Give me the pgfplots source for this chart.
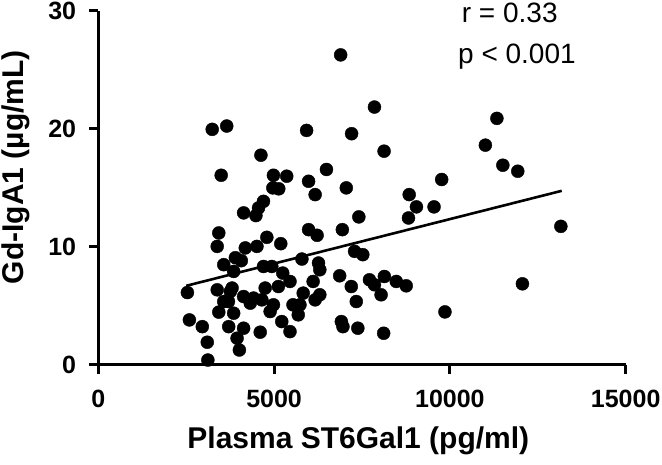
\documentclass[border=0pt]{standalone}
\usepackage{fontspec}
\setmainfont{Liberation Sans}
\usepackage{pgfplots}
\usepackage{pgfplotstable}
\pgfplotsset{compat=1.18}
\pgfplotstableread{
x y
6893 26.28
7854 21.86
3240 19.97
3653 20.25
5924 19.88
7204 19.60
8128 18.12
4625 17.78
3495 16.08
6489 16.57
4981 16.08
5359 16.00
5133 14.93
4964 15.01
5981 15.57
6167 14.44
7054 15.01
4698 13.87
4557 13.31
4133 12.89
4483 12.66
7410 12.55
3427 11.19
3382 10.05
5981 11.47
6223 10.99
6941 11.47
4794 10.82
5190 10.28
4181 9.92
4512 10.05
4068 8.84
3568 8.50
3850 7.93
4698 8.35
4935 8.35
5791 8.98
6263 8.64
6300 8.07
7289 9.63
7523 9.35
5246 7.79
5452 7.08
5122 6.65
6110 7.08
6865 7.56
7712 7.22
7854 6.80
8136 7.50
2534 6.14
3382 6.37
3757 6.23
4746 6.52
3568 5.38
4133 5.80
4415 5.67
4653 5.52
4322 5.24
5828 6.09
6300 5.95
6167 5.52
7195 6.65
8043 5.95
7337 5.38
3427 4.48
3850 4.39
4887 4.53
4981 5.10
5735 5.10
5687 4.25
2591 3.82
2958 3.25
3709 3.25
4133 3.12
4605 2.78
5218 3.68
5452 2.83
6913 3.68
6958 3.25
7382 3.12
8116 2.69
3099 1.93
3947 2.27
4012 1.27
3116 0.42
8475 7.08
8758 6.71
8842 14.44
9048 13.40
9549 13.40
8822 12.46
9766 15.72
11009 18.63
11337 20.90
11506 16.93
11930 16.42
13156 11.75
12063 6.88
9859 4.50
3805 6.52
3899 9.09
5537 5.10
3701 5.38
}\scatterdata
\begin{document}
\begin{tikzpicture}[x=1pt,y=1pt]
\useasboundingbox (-98.3,-100) rectangle (563.7,365);
\begin{axis}[
  at={(0,0)}, anchor=south west,
  scale only axis, width=527.4pt, height=354pt,
  xmin=0, xmax=15000, ymin=0, ymax=30,
  clip=false,
  axis lines=left,
  axis line style={-, line width=3pt, black},
  every outer x axis line/.append style={-},
  every outer y axis line/.append style={-},
  xtick={0,5000,10000,15000},
  ytick={0,10,20,30},
  minor tick num=0,
  tick align=outside,
  major tick length=9pt,
  tick style={line width=3pt, black},
  scaled x ticks=false,
  /pgf/number format/assume math mode=true,
  /pgf/number format/1000 sep={},
  ticklabel style={font=\fontsize{25}{25}\selectfont\bfseries, inner sep=0pt},
  xticklabel style={anchor=north},
  yticklabel style={anchor=east},
  xticklabel shift=16pt,
  yticklabel shift=13pt,
  xlabel={Plasma ST6Gal1 (pg/ml)},
  ylabel={Gd-IgA1 (µg/mL)},
  xlabel style={font=\fontsize{30}{30}\selectfont\bfseries, inner sep=0pt, at={(axis description cs:0.493,-0.237)}, anchor=base},
  ylabel style={font=\fontsize{30}{30}\selectfont\bfseries, inner sep=0pt, at={(axis description cs:-0.141,0.559)}, anchor=base},
]
\addplot[only marks, mark=*, mark size=6.5pt, black] table[x=x,y=y] {\scatterdata};
\addplot[black, line width=2.6pt, no marks] coordinates {(2500,6.71) (13180,14.76)};
\node[anchor=base west, font=\fontsize{28}{28}\selectfont, inner sep=0pt] at (axis cs:10335,29.01) {r = 0.33};
\node[anchor=base west, font=\fontsize{28}{28}\selectfont, inner sep=0pt] at (axis cs:10230,25.59) {p < 0.001};
\end{axis}
\end{tikzpicture}
\end{document}
